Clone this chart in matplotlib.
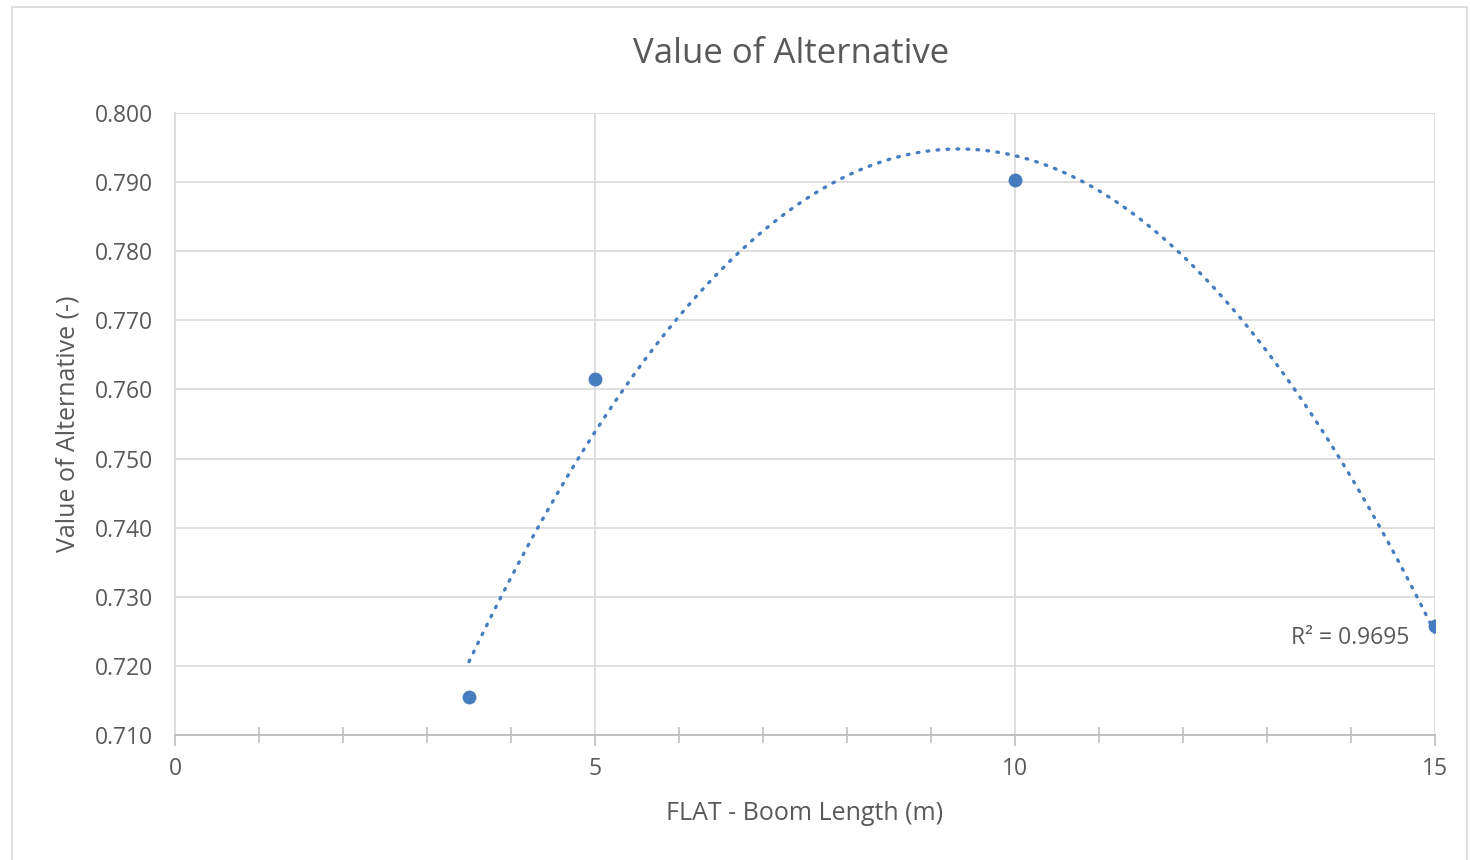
import numpy as np
import matplotlib.pyplot as plt
from matplotlib.patches import Rectangle

plt.rcParams['font.family'] = ['Open Sans', 'DejaVu Sans']

boom_length = [3.5, 5, 10, 15]
value = [0.7155, 0.7615, 0.7903, 0.7258]
r2_label = "R² = 0.9695"

blue = '#467DBF'
grey_text = '#595959'
grid_col = '#D9D9D9'

fig = plt.figure(figsize=(14.7, 8.6), dpi=100)
ax = fig.add_axes([175 / 1470, 1 - 735 / 860, 1260 / 1470, 622 / 860])

# chart border
fig.patches.append(Rectangle((12 / 1470, -0.05), 1455 / 1470, 1.05 - 7 / 860,
                             transform=fig.transFigure, fill=False,
                             edgecolor='#D9D9D9', linewidth=1.2))

# 2nd order polynomial trendline
coef = np.polyfit(boom_length, value, 2)
xs = np.linspace(min(boom_length), max(boom_length), 300)
ax.plot(xs, np.polyval(coef, xs), color=blue, linewidth=2.4,
        linestyle=(0, (0.5, 2.5)), dash_capstyle='round', zorder=3)

ax.scatter(boom_length, value, s=100, color=blue, zorder=4, linewidths=0)

ax.text(14.7, 0.7240, r2_label, ha='right', va='center', fontsize=16.5, color=grey_text)

ax.set_xlim(0, 15)
ax.set_ylim(0.710, 0.800)
ax.set_xticks([0, 5, 10, 15])
ax.set_xticks(np.arange(0, 16, 1), minor=True)
ax.set_yticks(np.arange(0.710, 0.8001, 0.010))
ax.set_yticklabels([f"{v:.3f}" for v in np.arange(0.710, 0.8001, 0.010)])

ax.grid(True, which='major', color=grid_col, linewidth=1.2)
ax.set_axisbelow(True)
for side in ['top', 'right']:
    ax.spines[side].set_visible(False)
ax.spines['left'].set_color(grid_col)
ax.spines['left'].set_linewidth(1.2)
ax.spines['bottom'].set_color('#BFBFBF')
ax.spines['bottom'].set_linewidth(1.4)

ax.tick_params(axis='y', length=0, pad=16, labelsize=16.5, labelcolor=grey_text)
ax.tick_params(axis='x', which='major', direction='out', length=8, width=1.2,
               color='#BFBFBF', labelsize=16.5, labelcolor=grey_text, pad=8)
ax.tick_params(axis='x', which='minor', direction='inout', length=12, width=1.2,
               color='#BFBFBF')

ax.set_title("Value of Alternative", fontsize=25, color=grey_text, pad=36, x=0.489)
ax.set_xlabel("FLAT - Boom Length (m)", fontsize=18, color=grey_text, labelpad=14)
ax.set_ylabel("Value of Alternative (-)", fontsize=18, color=grey_text, labelpad=10)

fig.savefig('out.png', dpi=100)
